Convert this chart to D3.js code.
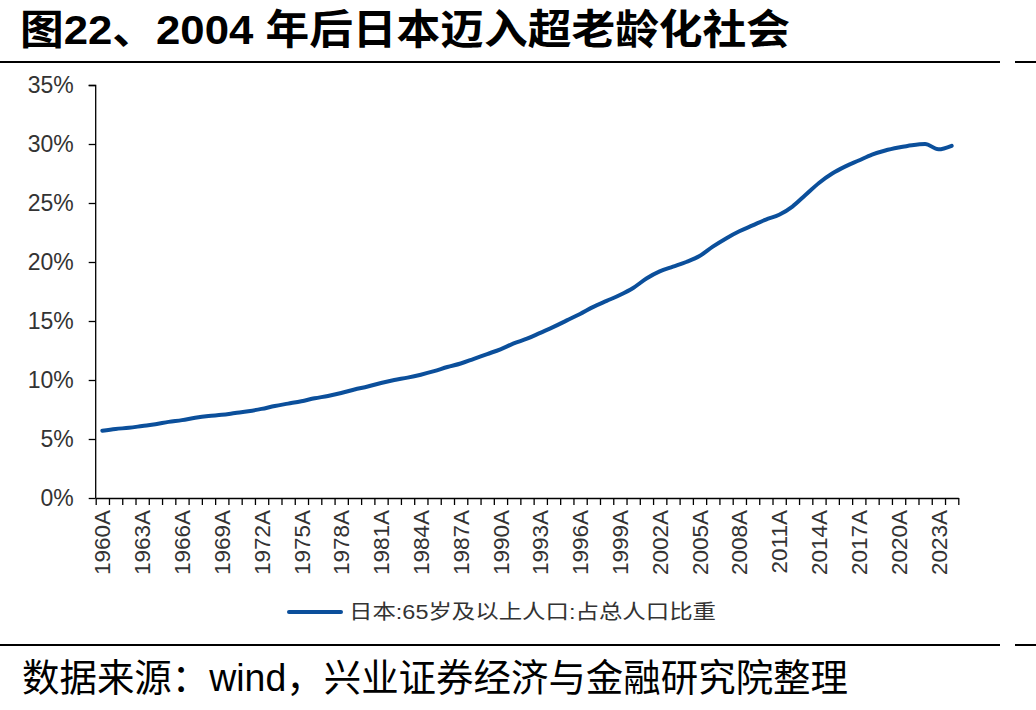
<!DOCTYPE html>
<html>
    <head>
        <meta charset="UTF-8" />
        <title>日本65岁及以上人口占比</title>
        <script src="https://d3js.org/d3.v7.min.js"></script>
        <style>
body {
    margin: 0px;
    background: #fff;
}
svg text {
    font-family: "Liberation Sans", Arial, "Noto Sans CJK SC", sans-serif;
}
        </style>
    </head>
    <body>
        <svg id="chart" width="1036" height="710"></svg>
<script>
// data
const years = d3.range(1960, 2025);
const share = [
    5.7, 5.85, 5.95, 6.1, 6.25, 6.45, 6.6, 6.8, 6.95, 7.05,
    7.2, 7.35, 7.55, 7.8, 8.0, 8.2, 8.45, 8.65, 8.9, 9.2,
    9.45, 9.75, 10.0, 10.2, 10.45, 10.75, 11.1, 11.4, 11.8, 12.2,
    12.6, 13.1, 13.5, 14.0, 14.5, 15.05, 15.6, 16.2, 16.7, 17.2,
    17.8, 18.6, 19.2, 19.6, 20.0, 20.5, 21.3, 22.0, 22.6, 23.1,
    23.6, 24.0, 24.7, 25.7, 26.7, 27.5, 28.1, 28.6, 29.1, 29.45,
    29.7, 29.9, 30.0, 29.55, 29.85
];
const yTicks = [0, 5, 10, 15, 20, 25, 30, 35];
const labelYears = d3.range(1960, 2025, 3);
const seriesName = "日本:65岁及以上人口:占总人口比重";
const titleText = "图22、2004 年后日本迈入超老龄化社会";
const sourceText = "数据来源：wind，兴业证券经济与金融研究院整理";

const blue = "#0b4f9b";
let svg = d3.select("#chart");

// title + rules
svg.append("text")
    .attr("x", 20).attr("y", 44)
    .attr("font-size", 41).attr("font-weight", "bold")
    .attr("fill", "#000")
    .attr("textLength", 770).attr("lengthAdjust", "spacingAndGlyphs")
    .text(titleText);

for (let ry of [62, 645]) {
    svg.append("line").attr("x1", 0).attr("x2", 1000).attr("y1", ry).attr("y2", ry)
        .attr("stroke", "#000").attr("stroke-width", 2);
    svg.append("line").attr("x1", 1015).attr("x2", 1036).attr("y1", ry).attr("y2", ry)
        .attr("stroke", "#000").attr("stroke-width", 2);
}

svg.append("text")
    .attr("x", 22).attr("y", 691)
    .attr("font-size", 38).attr("fill", "#000")
    .attr("textLength", 826).attr("lengthAdjust", "spacingAndGlyphs")
    .text(sourceText);

// scales
let x = d3.scaleLinear().domain([1960, 2025]).range([95.7, 958.3]);
let y = d3.scaleLinear().domain([0, 35]).range([498, 85]);

// y axis
let yAxis = svg.append("g")
    .attr("transform", "translate(95.7,0)")
    .call(d3.axisLeft(y).tickValues(yTicks).tickFormat(d => d + "%").tickSize(7).tickPadding(15));
yAxis.selectAll("text").attr("font-size", 23).attr("fill", "#333")
    .attr("font-family", "'Liberation Sans', Arial, sans-serif");
yAxis.selectAll("line, path").attr("stroke", "#000").attr("stroke-width", 1.3);
yAxis.select(".domain").attr("d", "M-7,85.5H0V498");

// x axis: tick at each year boundary, labels every 3 years
let xAxis = svg.append("g")
    .attr("transform", "translate(0,498)")
    .call(d3.axisBottom(x).tickValues(d3.range(1960, 2026)).tickFormat("").tickSize(7).tickSizeOuter(0));
xAxis.selectAll("line, path").attr("stroke", "#000").attr("stroke-width", 1.3);

svg.append("g").selectAll("text")
    .data(labelYears)
    .join("text")
    .attr("transform", d => `translate(${x(d + 0.5)},510) rotate(-90)`)
    .attr("text-anchor", "end")
    .attr("dy", "0.36em")
    .attr("font-size", 22.5)
    .attr("fill", "#333")
    .text(d => d + "A");

// series line
let line = d3.line()
    .x((d, i) => x(years[i] + 0.5))
    .y(d => y(d))
    .curve(d3.curveMonotoneX);

svg.append("path")
    .datum(share)
    .attr("d", line)
    .attr("fill", "none")
    .attr("stroke", blue)
    .attr("stroke-width", 4)
    .attr("stroke-linejoin", "round")
    .attr("stroke-linecap", "round");

// legend
svg.append("line").attr("x1", 289).attr("x2", 341).attr("y1", 612).attr("y2", 612)
    .attr("stroke", blue).attr("stroke-width", 4).attr("stroke-linecap", "round");
svg.append("text")
    .attr("x", 349).attr("y", 619)
    .attr("font-size", 20).attr("fill", "#333")
    .attr("font-family", "'Liberation Sans', 'Noto Sans CJK SC', sans-serif")
    .attr("textLength", 367).attr("lengthAdjust", "spacingAndGlyphs")
    .text(seriesName);
</script>
    </body>
</html>
